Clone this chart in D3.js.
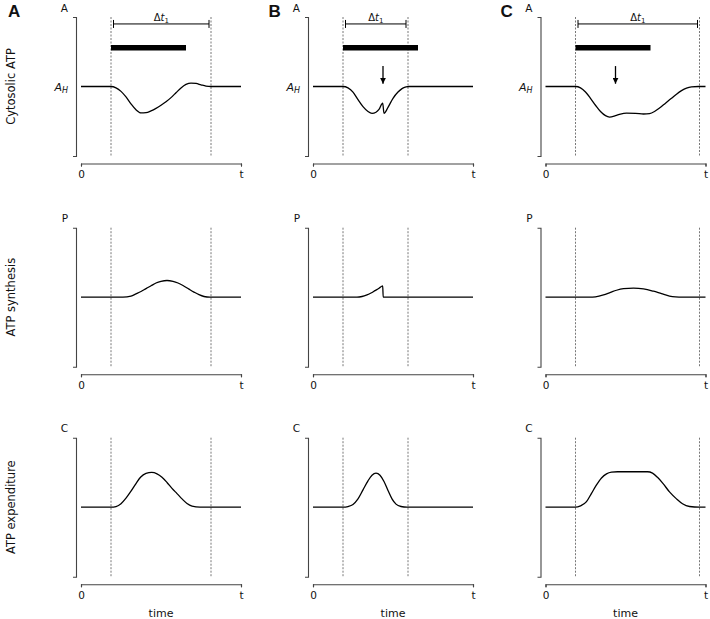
<!DOCTYPE html>
<html>
<head>
<meta charset="utf-8">
<script src="https://cdn.jsdelivr.net/npm/d3@7/dist/d3.min.js"></script>
<style>
  html, body { margin: 0; padding: 0; background: #fff; }
  svg { display: block; }
  text { font-family: "DejaVu Sans", sans-serif; fill: #111; }
</style>
</head>
<body>
<svg id="chart" width="710" height="619"></svg>
<script>
// ---------- data ----------
const panelLetters = ["A", "B", "C"];
const rowLabels = ["Cytosolic ATP", "ATP synthesis", "ATP expenditure"];
const axisLetters = ["A", "P", "C"];
const xTickLabels = ["0", "t"];
const timeDomain = [0, 16];
const stimStart = [3, 3, 3];          // left dashed line / bar start
const stimEnd = [10.5, 10.5, 10.5];   // end of the black bar
const windowEnd = [13, 9.5, 15.4];    // right dashed line (end of Δt1)
const arrowTime = [null, 7, 7];       // perturbation arrow

// Cytosolic ATP (A), A_H = 0.5
const cytoA = [[0,0.5],[3,0.5],[3.5,0.49],[4,0.465],[4.5,0.425],[5,0.375],[5.5,0.332],[6,0.31],[6.5,0.312],[7,0.325],[7.5,0.343],[8,0.365],[8.5,0.39],[9,0.42],[9.5,0.455],[10,0.49],[10.5,0.515],[11,0.525],[11.5,0.522],[12,0.512],[12.5,0.503],[13,0.5],[16,0.5]];
const cytoB = [[0,0.5],[3,0.5],[3.5,0.49],[4,0.46],[4.5,0.405],[5,0.355],[5.5,0.32],[5.9,0.307],[6.3,0.315],[6.6,0.335],[6.97,0.38],[7.1,0.307],[7.5,0.35],[8,0.415],[8.5,0.46],[8.9,0.485],[9.3,0.497],[9.6,0.5],[16,0.5]];
const cytoC = [[0,0.5],[3,0.5],[3.5,0.49],[4,0.46],[4.5,0.415],[5,0.365],[5.5,0.32],[6,0.29],[6.4,0.28],[7,0.29],[7.5,0.302],[8.1,0.308],[9,0.307],[9.8,0.302],[10.4,0.305],[10.9,0.32],[11.4,0.345],[12,0.38],[12.6,0.415],[13.1,0.445],[13.6,0.47],[14.1,0.488],[14.6,0.497],[15.3,0.5],[16,0.5]];

// ATP synthesis (P)
const synA = [[0,0.5],[4.2,0.5],[5,0.508],[5.5,0.524],[6,0.541],[6.5,0.562],[7,0.582],[7.5,0.602],[8,0.614],[8.6,0.62],[9.2,0.614],[9.7,0.602],[10.2,0.584],[10.8,0.558],[11.3,0.537],[11.8,0.518],[12.3,0.505],[12.9,0.5],[16,0.5]];
const synB = [[0,0.5],[4.4,0.5],[4.9,0.505],[5.4,0.517],[5.8,0.53],[6.2,0.547],[6.6,0.564],[6.97,0.581],[7.02,0.5],[16,0.5]];
const synC = [[0,0.5],[4.4,0.5],[5,0.503],[5.8,0.517],[6.5,0.535],[7.1,0.55],[7.8,0.561],[8.8,0.565],[9.8,0.56],[10.8,0.543],[11.6,0.525],[12.4,0.508],[13,0.502],[13.7,0.5],[16,0.5]];

// ATP expenditure (C)
const expA = [[0,0.5],[3,0.5],[3.5,0.505],[4,0.525],[4.5,0.565],[5,0.615],[5.5,0.67],[5.95,0.715],[6.5,0.743],[7.07,0.75],[7.6,0.74],[8.1,0.715],[8.6,0.678],[9.1,0.635],[9.6,0.598],[10.1,0.56],[10.6,0.527],[11.1,0.508],[11.9,0.5],[16,0.5]];
const expB = [[0,0.5],[3,0.5],[3.5,0.505],[4,0.52],[4.5,0.56],[5,0.625],[5.5,0.69],[5.9,0.73],[6.3,0.745],[6.7,0.73],[7.1,0.685],[7.5,0.62],[7.9,0.56],[8.3,0.522],[8.8,0.505],[9.4,0.5],[16,0.5]];
const expC = [[0,0.5],[3,0.5],[3.5,0.51],[4.1,0.54],[4.6,0.6],[5.1,0.66],[5.6,0.71],[6.1,0.74],[6.6,0.752],[7.2,0.755],[10.2,0.755],[10.7,0.745],[11.2,0.715],[11.76,0.67],[12.4,0.61],[13.1,0.56],[13.7,0.525],[14.4,0.505],[15.4,0.5],[16,0.5]];

const series = [
  [cytoA, cytoB, cytoC],
  [synA, synB, synC],
  [expA, expB, expC]
];

// ---------- layout ----------
const svg = d3.select("#chart");
const colX = [81, 313, 545.5];
const colW = 160;
const rowTop = [17, 227.7, 437.7];
const rowH = 139;
const axisGap = 7.5;

const line = d3.line()
  .x(d => d[0]).y(d => d[1])
  .curve(d3.curveMonotoneX);

// defs: arrowhead
svg.append("defs").append("marker")
  .attr("id", "arrowhead")
  .attr("viewBox", "0 0 10 10")
  .attr("refX", 10).attr("refY", 5)
  .attr("markerWidth", 6).attr("markerHeight", 6)
  .attr("markerUnits", "userSpaceOnUse")
  .attr("orient", "auto")
  .append("path").attr("d", "M0,0 L10,5 L0,10 Z").attr("fill", "#000");

// row labels
rowLabels.forEach((lab, r) => {
  const cy = rowTop[r] + rowH * 0.5;
  svg.append("text")
    .attr("transform", `translate(15,${cy}) rotate(-90)`)
    .attr("text-anchor", "middle")
    .style("font-size", "11.5px")
    .text(lab);
});

// panel letters
panelLetters.forEach((L, c) => {
  svg.append("text")
    .attr("x", [8, 268.5, 500.5][c]).attr("y", 17)
    .style("font-family", "'Liberation Sans', Arial, sans-serif")
    .style("font-weight", "bold")
    .style("font-size", "17px")
    .text(L);
});

for (let r = 0; r < 3; r++) {
  for (let c = 0; c < 3; c++) {
    const x = d3.scaleLinear().domain(timeDomain).range([colX[c], colX[c] + colW]);
    const y = d3.scaleLinear().domain([0, 1]).range([rowTop[r] + rowH, rowTop[r]]);
    const g = svg.append("g");

    // y axis
    const ya = g.append("g")
      .attr("transform", `translate(${colX[c] - 5},0)`)
      .call(d3.axisLeft(y).tickValues([]).tickSizeOuter(3));
    ya.select(".domain").attr("stroke", "#444").attr("stroke-width", 1.1);

    // x axis
    const xa = g.append("g")
      .attr("transform", `translate(0,${rowTop[r] + rowH + axisGap})`)
      .call(d3.axisBottom(x).tickValues(timeDomain).tickSize(3).tickPadding(4.5)
        .tickFormat((d, i) => xTickLabels[i]));
    xa.select(".domain").attr("stroke", "#444").attr("stroke-width", 1.1);
    xa.selectAll(".tick line").attr("stroke", "#444").attr("stroke-width", 1.1);
    xa.selectAll(".tick text")
      .style("font-family", "'DejaVu Sans', sans-serif")
      .style("font-size", "10.5px").attr("fill", "#111");

    // axis letter
    g.append("text")
      .attr("x", colX[c] - 13).attr("y", rowTop[r] - 5.5)
      .attr("text-anchor", "end")
      .style("font-size", "10.5px")
      .text(axisLetters[r]);

    // dashed lines
    [stimStart[c], windowEnd[c]].forEach(t => {
      g.append("line")
        .attr("x1", x(t)).attr("x2", x(t))
        .attr("y1", y(1)).attr("y2", y(0))
        .attr("stroke", "#555").attr("stroke-width", 0.8)
        .attr("stroke-dasharray", "2,1.5");
    });

    // curve
    g.append("path")
      .datum(series[r][c].map(d => [x(d[0]), y(d[1])]))
      .attr("d", line)
      .attr("fill", "none")
      .attr("stroke", "#000")
      .attr("stroke-width", 1.3);

    if (r === 0) {
      // A_H label
      const ah = g.append("text")
        .attr("x", colX[c] - 13).attr("y", y(0.5) + 4)
        .attr("text-anchor", "end")
        .style("font-size", "11px");
      ah.append("tspan").style("font-style", "italic").text("A");
      ah.append("tspan").attr("dy", 2.5).style("font-size", "8px").style("font-style", "italic").text("H");

      // Δt1 bracket
      const b0 = x(stimStart[c] + 0.25), b1 = x(windowEnd[c] - 0.2), by = y(0.95);
      g.append("line").attr("x1", b0).attr("x2", b1).attr("y1", by).attr("y2", by)
        .attr("stroke", "#000").attr("stroke-width", 1);
      [b0, b1].forEach(bx => g.append("line")
        .attr("x1", bx).attr("x2", bx).attr("y1", by - 4).attr("y2", by + 4)
        .attr("stroke", "#000").attr("stroke-width", 1));
      const dt = g.append("text")
        .attr("x", (b0 + b1) / 2).attr("y", by - 3)
        .attr("text-anchor", "middle")
        .style("font-size", "10px");
      dt.append("tspan").text("Δ");
      dt.append("tspan").style("font-style", "italic").text("t");
      dt.append("tspan").attr("dy", 2).style("font-size", "7px").text("1");

      // black bar (stimulus)
      g.append("line")
        .attr("x1", x(stimStart[c])).attr("x2", x(stimEnd[c]))
        .attr("y1", y(0.778)).attr("y2", y(0.778))
        .attr("stroke", "#000").attr("stroke-width", 5.5);

      // arrow
      if (arrowTime[c] !== null) {
        g.append("line")
          .attr("x1", x(arrowTime[c])).attr("x2", x(arrowTime[c]))
          .attr("y1", y(0.647)).attr("y2", y(0.52))
          .attr("stroke", "#000").attr("stroke-width", 1.3)
          .attr("marker-end", "url(#arrowhead)");
      }
    }

    if (r === 2) {
      g.append("text")
        .attr("x", colX[c] + colW / 2).attr("y", 616.5)
        .attr("text-anchor", "middle")
        .style("font-size", "11px")
        .text("time");
    }
  }
}
</script>
</body>
</html>
